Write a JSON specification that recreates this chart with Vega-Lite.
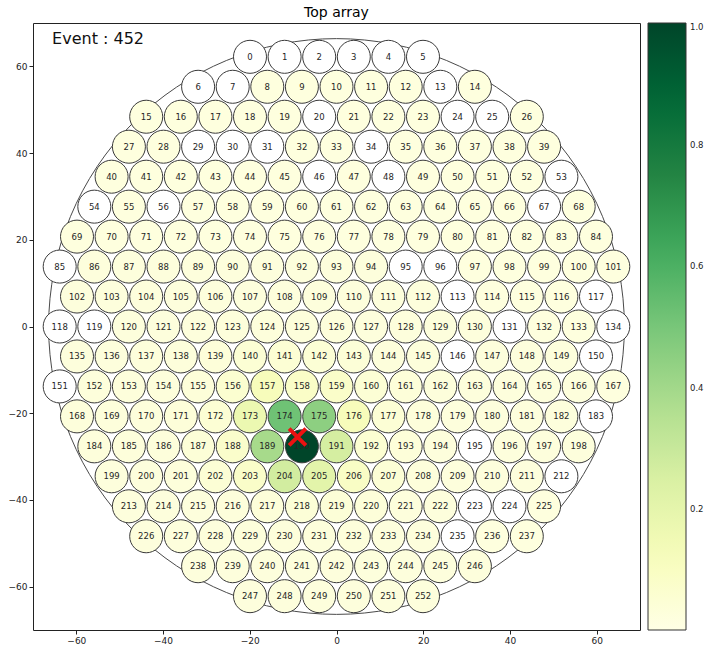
{
  "$schema": "https://vega.github.io/schema/vega-lite/v6.json",
  "width": 607,
  "height": 607,
  "padding": {"left": 8, "top": 6, "right": 0, "bottom": 0},
  "title": {"text": "Top array", "fontSize": 14, "fontWeight": "normal", "color": "#000", "anchor": "middle", "frame": "group", "offset": 3},
  "config": {
    "font": "DejaVu Sans",
    "view": {"stroke": "#222", "strokeWidth": 1},
    "axis": {"grid": false, "domain": false, "tickColor": "#222", "tickSize": 4, "labelFontSize": 9, "labelColor": "#222", "labelPadding": 2}
  },
  "datasets": {
    "pmts": [
      {"id":0,"x":-19.95,"y":62.2,"v":0},{"id":1,"x":-11.97,"y":62.2,"v":0},{"id":2,"x":-3.99,"y":62.2,"v":0},{"id":3,"x":3.99,"y":62.2,"v":0},{"id":4,"x":11.97,"y":62.2,"v":0},{"id":5,"x":19.95,"y":62.2,"v":0},
      {"id":6,"x":-31.92,"y":55.29,"v":0},{"id":7,"x":-23.94,"y":55.29,"v":0},{"id":8,"x":-15.96,"y":55.29,"v":0.02},{"id":9,"x":-7.98,"y":55.29,"v":0.02},{"id":10,"x":0,"y":55.29,"v":0.02},{"id":11,"x":7.98,"y":55.29,"v":0.02},{"id":12,"x":15.96,"y":55.29,"v":0.02},{"id":13,"x":23.94,"y":55.29,"v":0},{"id":14,"x":31.92,"y":55.29,"v":0.02},
      {"id":15,"x":-43.89,"y":48.38,"v":0.02},{"id":16,"x":-35.91,"y":48.38,"v":0.02},{"id":17,"x":-27.93,"y":48.38,"v":0.02},{"id":18,"x":-19.95,"y":48.38,"v":0.02},{"id":19,"x":-11.97,"y":48.38,"v":0.02},{"id":20,"x":-3.99,"y":48.38,"v":0},{"id":21,"x":3.99,"y":48.38,"v":0.02},{"id":22,"x":11.97,"y":48.38,"v":0.02},{"id":23,"x":19.95,"y":48.38,"v":0.02},{"id":24,"x":27.93,"y":48.38,"v":0},{"id":25,"x":35.91,"y":48.38,"v":0},{"id":26,"x":43.89,"y":48.38,"v":0.02},
      {"id":27,"x":-47.88,"y":41.47,"v":0.02},{"id":28,"x":-39.9,"y":41.47,"v":0.02},{"id":29,"x":-31.92,"y":41.47,"v":0},{"id":30,"x":-23.94,"y":41.47,"v":0},{"id":31,"x":-15.96,"y":41.47,"v":0},{"id":32,"x":-7.98,"y":41.47,"v":0.02},{"id":33,"x":0,"y":41.47,"v":0.02},{"id":34,"x":7.98,"y":41.47,"v":0},{"id":35,"x":15.96,"y":41.47,"v":0.02},{"id":36,"x":23.94,"y":41.47,"v":0.02},{"id":37,"x":31.92,"y":41.47,"v":0.02},{"id":38,"x":39.9,"y":41.47,"v":0.02},{"id":39,"x":47.88,"y":41.47,"v":0.02},
      {"id":40,"x":-51.87,"y":34.55,"v":0.02},{"id":41,"x":-43.89,"y":34.55,"v":0.02},{"id":42,"x":-35.91,"y":34.55,"v":0.02},{"id":43,"x":-27.93,"y":34.55,"v":0.02},{"id":44,"x":-19.95,"y":34.55,"v":0.02},{"id":45,"x":-11.97,"y":34.55,"v":0.02},{"id":46,"x":-3.99,"y":34.55,"v":0},{"id":47,"x":3.99,"y":34.55,"v":0.02},{"id":48,"x":11.97,"y":34.55,"v":0},{"id":49,"x":19.95,"y":34.55,"v":0.02},{"id":50,"x":27.93,"y":34.55,"v":0.02},{"id":51,"x":35.91,"y":34.55,"v":0.02},{"id":52,"x":43.89,"y":34.55,"v":0.02},{"id":53,"x":51.87,"y":34.55,"v":0},
      {"id":54,"x":-55.86,"y":27.64,"v":0},{"id":55,"x":-47.88,"y":27.64,"v":0.02},{"id":56,"x":-39.9,"y":27.64,"v":0},{"id":57,"x":-31.92,"y":27.64,"v":0.02},{"id":58,"x":-23.94,"y":27.64,"v":0.02},{"id":59,"x":-15.96,"y":27.64,"v":0.02},{"id":60,"x":-7.98,"y":27.64,"v":0.02},{"id":61,"x":0,"y":27.64,"v":0.02},{"id":62,"x":7.98,"y":27.64,"v":0.02},{"id":63,"x":15.96,"y":27.64,"v":0.02},{"id":64,"x":23.94,"y":27.64,"v":0.02},{"id":65,"x":31.92,"y":27.64,"v":0.02},{"id":66,"x":39.9,"y":27.64,"v":0.02},{"id":67,"x":47.88,"y":27.64,"v":0},{"id":68,"x":55.86,"y":27.64,"v":0.02},
      {"id":69,"x":-59.85,"y":20.73,"v":0.02},{"id":70,"x":-51.87,"y":20.73,"v":0.02},{"id":71,"x":-43.89,"y":20.73,"v":0.02},{"id":72,"x":-35.91,"y":20.73,"v":0.02},{"id":73,"x":-27.93,"y":20.73,"v":0.02},{"id":74,"x":-19.95,"y":20.73,"v":0.02},{"id":75,"x":-11.97,"y":20.73,"v":0.02},{"id":76,"x":-3.99,"y":20.73,"v":0.02},{"id":77,"x":3.99,"y":20.73,"v":0.02},{"id":78,"x":11.97,"y":20.73,"v":0.02},{"id":79,"x":19.95,"y":20.73,"v":0.02},{"id":80,"x":27.93,"y":20.73,"v":0.02},{"id":81,"x":35.91,"y":20.73,"v":0.02},{"id":82,"x":43.89,"y":20.73,"v":0.02},{"id":83,"x":51.87,"y":20.73,"v":0.02},{"id":84,"x":59.85,"y":20.73,"v":0.02},
      {"id":85,"x":-63.84,"y":13.82,"v":0},{"id":86,"x":-55.86,"y":13.82,"v":0.025},{"id":87,"x":-47.88,"y":13.82,"v":0.025},{"id":88,"x":-39.9,"y":13.82,"v":0.025},{"id":89,"x":-31.92,"y":13.82,"v":0.025},{"id":90,"x":-23.94,"y":13.82,"v":0.025},{"id":91,"x":-15.96,"y":13.82,"v":0.025},{"id":92,"x":-7.98,"y":13.82,"v":0.025},{"id":93,"x":0,"y":13.82,"v":0.025},{"id":94,"x":7.98,"y":13.82,"v":0.025},{"id":95,"x":15.96,"y":13.82,"v":0},{"id":96,"x":23.94,"y":13.82,"v":0},{"id":97,"x":31.92,"y":13.82,"v":0.02},{"id":98,"x":39.9,"y":13.82,"v":0.02},{"id":99,"x":47.88,"y":13.82,"v":0.02},{"id":100,"x":55.86,"y":13.82,"v":0.02},{"id":101,"x":63.84,"y":13.82,"v":0.02},
      {"id":102,"x":-59.85,"y":6.91,"v":0.025},{"id":103,"x":-51.87,"y":6.91,"v":0.025},{"id":104,"x":-43.89,"y":6.91,"v":0.025},{"id":105,"x":-35.91,"y":6.91,"v":0.025},{"id":106,"x":-27.93,"y":6.91,"v":0.025},{"id":107,"x":-19.95,"y":6.91,"v":0.025},{"id":108,"x":-11.97,"y":6.91,"v":0.025},{"id":109,"x":-3.99,"y":6.91,"v":0.025},{"id":110,"x":3.99,"y":6.91,"v":0.025},{"id":111,"x":11.97,"y":6.91,"v":0.025},{"id":112,"x":19.95,"y":6.91,"v":0.025},{"id":113,"x":27.93,"y":6.91,"v":0},{"id":114,"x":35.91,"y":6.91,"v":0.02},{"id":115,"x":43.89,"y":6.91,"v":0.02},{"id":116,"x":51.87,"y":6.91,"v":0.02},{"id":117,"x":59.85,"y":6.91,"v":0},
      {"id":118,"x":-63.84,"y":0,"v":0},{"id":119,"x":-55.86,"y":0,"v":0},{"id":120,"x":-47.88,"y":0,"v":0.025},{"id":121,"x":-39.9,"y":0,"v":0.025},{"id":122,"x":-31.92,"y":0,"v":0.025},{"id":123,"x":-23.94,"y":0,"v":0.03},{"id":124,"x":-15.96,"y":0,"v":0.03},{"id":125,"x":-7.98,"y":0,"v":0.03},{"id":126,"x":0,"y":0,"v":0.03},{"id":127,"x":7.98,"y":0,"v":0.025},{"id":128,"x":15.96,"y":0,"v":0.025},{"id":129,"x":23.94,"y":0,"v":0.025},{"id":130,"x":31.92,"y":0,"v":0.025},{"id":131,"x":39.9,"y":0,"v":0},{"id":132,"x":47.88,"y":0,"v":0.02},{"id":133,"x":55.86,"y":0,"v":0.02},{"id":134,"x":63.84,"y":0,"v":0},
      {"id":135,"x":-59.85,"y":-6.91,"v":0.025},{"id":136,"x":-51.87,"y":-6.91,"v":0.025},{"id":137,"x":-43.89,"y":-6.91,"v":0.03},{"id":138,"x":-35.91,"y":-6.91,"v":0.03},{"id":139,"x":-27.93,"y":-6.91,"v":0.035},{"id":140,"x":-19.95,"y":-6.91,"v":0.05},{"id":141,"x":-11.97,"y":-6.91,"v":0.05},{"id":142,"x":-3.99,"y":-6.91,"v":0.045},{"id":143,"x":3.99,"y":-6.91,"v":0.04},{"id":144,"x":11.97,"y":-6.91,"v":0.03},{"id":145,"x":19.95,"y":-6.91,"v":0.03},{"id":146,"x":27.93,"y":-6.91,"v":0},{"id":147,"x":35.91,"y":-6.91,"v":0.025},{"id":148,"x":43.89,"y":-6.91,"v":0.025},{"id":149,"x":51.87,"y":-6.91,"v":0.025},{"id":150,"x":59.85,"y":-6.91,"v":0},
      {"id":151,"x":-63.84,"y":-13.82,"v":0},{"id":152,"x":-55.86,"y":-13.82,"v":0.03},{"id":153,"x":-47.88,"y":-13.82,"v":0.03},{"id":154,"x":-39.9,"y":-13.82,"v":0.03},{"id":155,"x":-31.92,"y":-13.82,"v":0.035},{"id":156,"x":-23.94,"y":-13.82,"v":0.06},{"id":157,"x":-15.96,"y":-13.82,"v":0.12},{"id":158,"x":-7.98,"y":-13.82,"v":0.085},{"id":159,"x":0,"y":-13.82,"v":0.08},{"id":160,"x":7.98,"y":-13.82,"v":0.045},{"id":161,"x":15.96,"y":-13.82,"v":0.035},{"id":162,"x":23.94,"y":-13.82,"v":0.03},{"id":163,"x":31.92,"y":-13.82,"v":0.025},{"id":164,"x":39.9,"y":-13.82,"v":0.025},{"id":165,"x":47.88,"y":-13.82,"v":0.025},{"id":166,"x":55.86,"y":-13.82,"v":0.025},{"id":167,"x":63.84,"y":-13.82,"v":0.02},
      {"id":168,"x":-59.85,"y":-20.73,"v":0.03},{"id":169,"x":-51.87,"y":-20.73,"v":0.03},{"id":170,"x":-43.89,"y":-20.73,"v":0.03},{"id":171,"x":-35.91,"y":-20.73,"v":0.035},{"id":172,"x":-27.93,"y":-20.73,"v":0.05},{"id":173,"x":-19.95,"y":-20.73,"v":0.17},{"id":174,"x":-11.97,"y":-20.73,"v":0.52},{"id":175,"x":-3.99,"y":-20.73,"v":0.45},{"id":176,"x":3.99,"y":-20.73,"v":0.12},{"id":177,"x":11.97,"y":-20.73,"v":0.045},{"id":178,"x":19.95,"y":-20.73,"v":0.03},{"id":179,"x":27.93,"y":-20.73,"v":0.025},{"id":180,"x":35.91,"y":-20.73,"v":0.025},{"id":181,"x":43.89,"y":-20.73,"v":0.025},{"id":182,"x":51.87,"y":-20.73,"v":0.025},{"id":183,"x":59.85,"y":-20.73,"v":0},
      {"id":184,"x":-55.86,"y":-27.64,"v":0.03},{"id":185,"x":-47.88,"y":-27.64,"v":0.03},{"id":186,"x":-39.9,"y":-27.64,"v":0.03},{"id":187,"x":-31.92,"y":-27.64,"v":0.04},{"id":188,"x":-23.94,"y":-27.64,"v":0.075},{"id":189,"x":-15.96,"y":-27.64,"v":0.39},{"id":190,"x":-7.98,"y":-27.64,"v":1.0},{"id":191,"x":0,"y":-27.64,"v":0.26},{"id":192,"x":7.98,"y":-27.64,"v":0.055},{"id":193,"x":15.96,"y":-27.64,"v":0.035},{"id":194,"x":23.94,"y":-27.64,"v":0.025},{"id":195,"x":31.92,"y":-27.64,"v":0},{"id":196,"x":39.9,"y":-27.64,"v":0.025},{"id":197,"x":47.88,"y":-27.64,"v":0.025},{"id":198,"x":55.86,"y":-27.64,"v":0.025},
      {"id":199,"x":-51.87,"y":-34.55,"v":0.025},{"id":200,"x":-43.89,"y":-34.55,"v":0.025},{"id":201,"x":-35.91,"y":-34.55,"v":0.03},{"id":202,"x":-27.93,"y":-34.55,"v":0.045},{"id":203,"x":-19.95,"y":-34.55,"v":0.08},{"id":204,"x":-11.97,"y":-34.55,"v":0.27},{"id":205,"x":-3.99,"y":-34.55,"v":0.21},{"id":206,"x":3.99,"y":-34.55,"v":0.09},{"id":207,"x":11.97,"y":-34.55,"v":0.045},{"id":208,"x":19.95,"y":-34.55,"v":0.03},{"id":209,"x":27.93,"y":-34.55,"v":0.025},{"id":210,"x":35.91,"y":-34.55,"v":0.025},{"id":211,"x":43.89,"y":-34.55,"v":0.025},{"id":212,"x":51.87,"y":-34.55,"v":0},
      {"id":213,"x":-47.88,"y":-41.47,"v":0.025},{"id":214,"x":-39.9,"y":-41.47,"v":0.025},{"id":215,"x":-31.92,"y":-41.47,"v":0.025},{"id":216,"x":-23.94,"y":-41.47,"v":0.03},{"id":217,"x":-15.96,"y":-41.47,"v":0.035},{"id":218,"x":-7.98,"y":-41.47,"v":0.04},{"id":219,"x":0,"y":-41.47,"v":0.04},{"id":220,"x":7.98,"y":-41.47,"v":0.035},{"id":221,"x":15.96,"y":-41.47,"v":0.025},{"id":222,"x":23.94,"y":-41.47,"v":0.025},{"id":223,"x":31.92,"y":-41.47,"v":0},{"id":224,"x":39.9,"y":-41.47,"v":0},{"id":225,"x":47.88,"y":-41.47,"v":0.02},
      {"id":226,"x":-43.89,"y":-48.38,"v":0.025},{"id":227,"x":-35.91,"y":-48.38,"v":0.025},{"id":228,"x":-27.93,"y":-48.38,"v":0.025},{"id":229,"x":-19.95,"y":-48.38,"v":0.03},{"id":230,"x":-11.97,"y":-48.38,"v":0.03},{"id":231,"x":-3.99,"y":-48.38,"v":0.03},{"id":232,"x":3.99,"y":-48.38,"v":0.03},{"id":233,"x":11.97,"y":-48.38,"v":0.025},{"id":234,"x":19.95,"y":-48.38,"v":0.025},{"id":235,"x":27.93,"y":-48.38,"v":0},{"id":236,"x":35.91,"y":-48.38,"v":0.02},{"id":237,"x":43.89,"y":-48.38,"v":0.02},
      {"id":238,"x":-31.92,"y":-55.29,"v":0.025},{"id":239,"x":-23.94,"y":-55.29,"v":0.025},{"id":240,"x":-15.96,"y":-55.29,"v":0.025},{"id":241,"x":-7.98,"y":-55.29,"v":0.025},{"id":242,"x":0,"y":-55.29,"v":0.025},{"id":243,"x":7.98,"y":-55.29,"v":0.025},{"id":244,"x":15.96,"y":-55.29,"v":0.025},{"id":245,"x":23.94,"y":-55.29,"v":0.025},{"id":246,"x":31.92,"y":-55.29,"v":0.025},
      {"id":247,"x":-19.95,"y":-62.2,"v":0.025},{"id":248,"x":-11.97,"y":-62.2,"v":0.025},{"id":249,"x":-3.99,"y":-62.2,"v":0.025},{"id":250,"x":3.99,"y":-62.2,"v":0.025},{"id":251,"x":11.97,"y":-62.2,"v":0.025},{"id":252,"x":19.95,"y":-62.2,"v":0.025}
    ],
    "reco": [{"x": -9.0, "y": -25.5}]
  },
  "layer": [
    {
      "description": "TPC wall outline, radius 66.4",
      "data": {"values": [{}]},
      "mark": {"type": "point", "shape": "circle", "filled": false, "size": 331500, "stroke": "#4a4a4a", "strokeWidth": 1, "opacity": 1},
      "encoding": {
        "x": {"datum": 0, "type": "quantitative"},
        "y": {"datum": 0, "type": "quantitative"}
      }
    },
    {
      "data": {"name": "pmts"},
      "mark": {"type": "point", "shape": "circle", "filled": true, "size": 1090, "stroke": "#3a3a3a", "strokeWidth": 1, "opacity": 1},
      "encoding": {
        "x": {"field": "x", "type": "quantitative", "title": null, "scale": {"domain": [-70, 70], "nice": false, "zero": false}, "axis": {"values": [-60, -40, -20, 0, 20, 40, 60]}},
        "y": {"field": "y", "type": "quantitative", "title": null, "scale": {"domain": [-70, 70], "nice": false, "zero": false}, "axis": {"values": [-60, -40, -20, 0, 20, 40, 60]}},
        "fill": {
          "field": "v", "type": "quantitative",
          "scale": {
            "domain": [0.001, 0.125, 0.25, 0.375, 0.5, 0.625, 0.75, 0.875, 1],
            "range": ["#ffffe5", "#f7fcb9", "#d9f0a3", "#addd8e", "#78c679", "#41ab5d", "#238443", "#006837", "#004529"],
            "interpolate": "rgb",
            "clamp": true
          },
          "condition": {"test": "datum.v == 0", "value": "white"},
          "legend": {"title": null, "orient": "right", "offset": 8, "gradientLength": 607, "gradientThickness": 38, "gradientStrokeColor": "#333", "gradientStrokeWidth": 1, "values": [0.2, 0.4, 0.6, 0.8, 1.0], "format": ".1f", "labelFontSize": 8.5, "labelColor": "#222", "labelOffset": 4, "labelBaseline": "middle", "labelOverlap": false}
        }
      }
    },
    {
      "data": {"name": "pmts"},
      "mark": {"type": "text", "fontSize": 8.5, "color": "#262626", "align": "center", "baseline": "middle"},
      "encoding": {
        "x": {"field": "x", "type": "quantitative"},
        "y": {"field": "y", "type": "quantitative"},
        "text": {"field": "id", "type": "nominal"}
      }
    },
    {
      "data": {"name": "reco"},
      "mark": {"type": "point", "shape": "M-1,-1L1,1M-1,1L1,-1", "filled": false, "size": 280, "stroke": "#ee1111", "strokeWidth": 4, "opacity": 1},
      "encoding": {
        "x": {"field": "x", "type": "quantitative"},
        "y": {"field": "y", "type": "quantitative"}
      }
    },
    {
      "data": {"values": [{}]},
      "mark": {"type": "text", "text": "Event : 452", "fontSize": 16, "color": "#111", "align": "left", "baseline": "middle"},
      "encoding": {
        "x": {"datum": -65.6, "type": "quantitative"},
        "y": {"datum": 66.2, "type": "quantitative"}
      }
    }
  ]
}
